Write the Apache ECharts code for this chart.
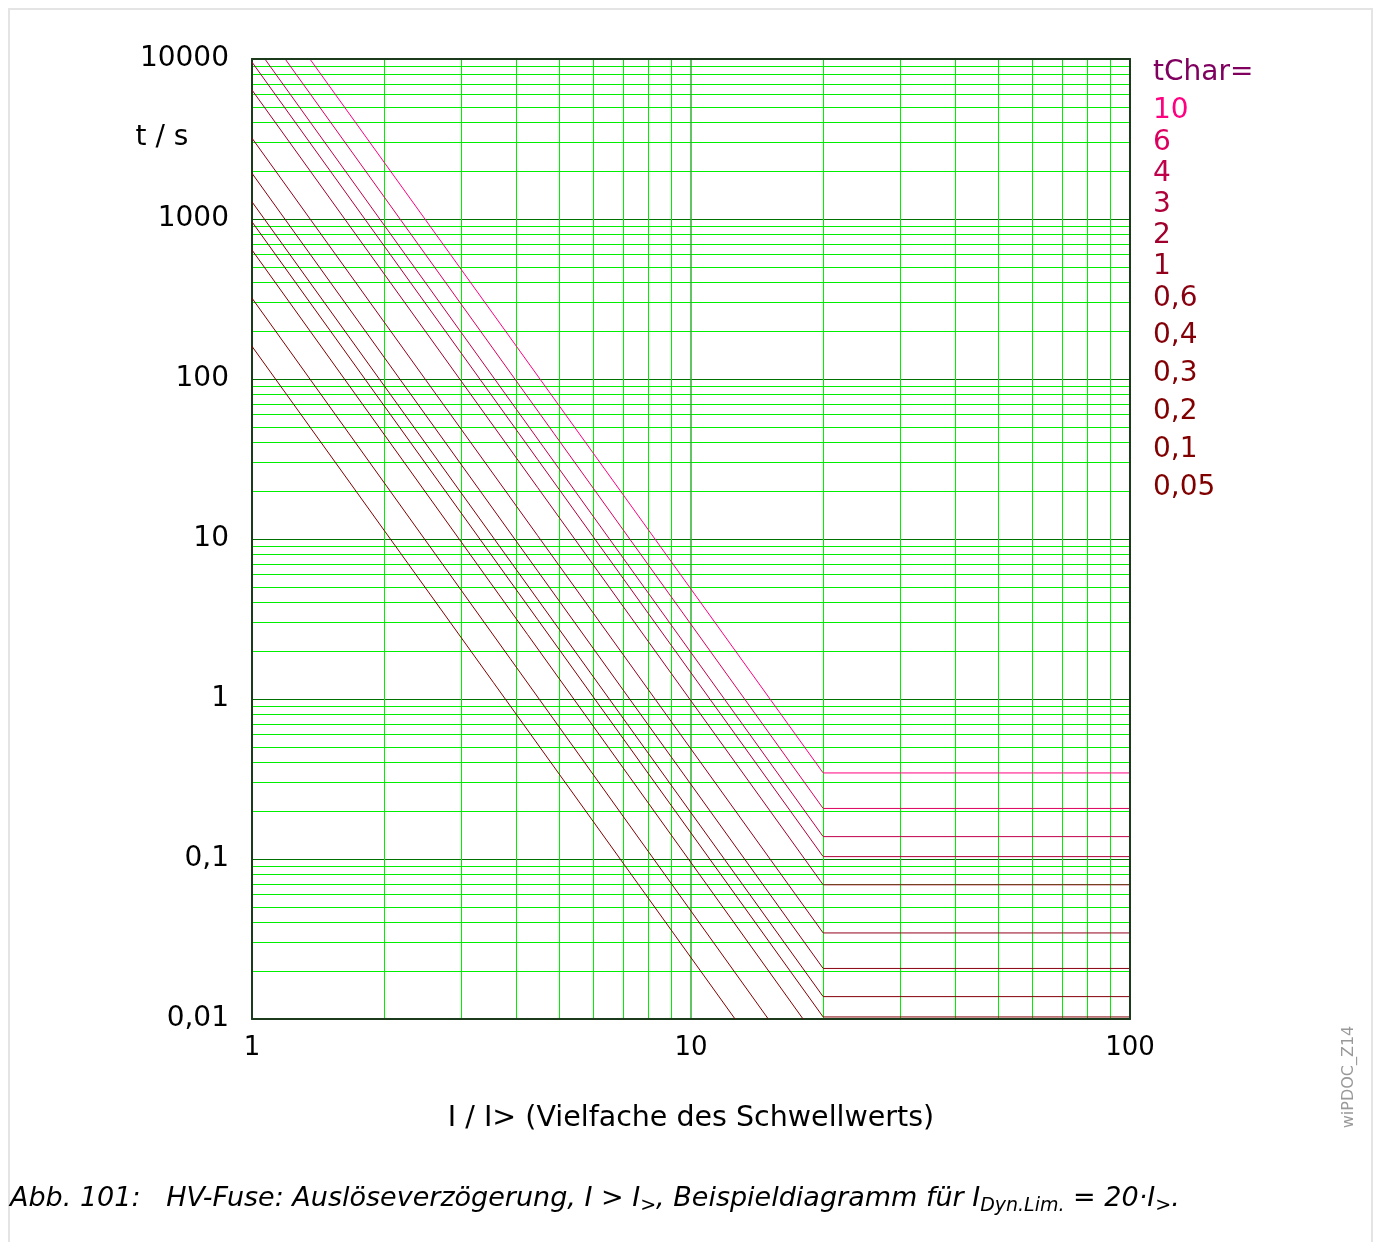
<!DOCTYPE html>
<html><head><meta charset="utf-8">
<script src="https://cdn.jsdelivr.net/npm/echarts@6/dist/echarts.min.js"></script>
<style>html,body{margin:0;padding:0;background:#fff}#c{width:1375px;height:1242px}</style>
</head><body><div id="c"></div>
<script>
// ---- data ----
const tCharLabels = ['10','6','4','3','2','1','0,6','0,4','0,3','0,2','0,1','0,05'];
const seriesColors = ['#ff0080','#dc005e','#c0004a','#b0003a','#a0002c','#92001c','#880010','#840008','#820004','#800000','#800000','#800000'];
// vertices (I/I>, t in s) for each tChar curve
const I_10  = [1.355, 20, 100];  const t_10  = [10000, 0.345, 0.345];
const I_6   = [1.19, 20, 100];   const t_6   = [10000, 0.207, 0.207];
const I_4   = [1.07, 20, 100];   const t_4   = [10000, 0.138, 0.138];
const I_3   = [1, 20, 100];      const t_3   = [9560, 0.1035, 0.1035];
const I_2   = [1, 20, 100];      const t_2   = [6400, 0.069, 0.069];
const I_1   = [1, 20, 100];      const t_1   = [3200, 0.0345, 0.0345];
const I_06  = [1, 20, 100];      const t_06  = [1930, 0.0207, 0.0207];
const I_04  = [1, 20, 100];      const t_04  = [1280, 0.0138, 0.0138];
const I_03  = [1, 20, 100];      const t_03  = [960, 0.0103, 0.0103];
const I_02  = [1, 18.0];         const t_02  = [640, 0.01];
const I_01  = [1, 15.0];         const t_01  = [320, 0.01];
const I_005 = [1, 12.6];         const t_005 = [160, 0.01];
const curveI = [I_10, I_6, I_4, I_3, I_2, I_1, I_06, I_04, I_03, I_02, I_01, I_005];
const curveT = [t_10, t_6, t_4, t_3, t_2, t_1, t_06, t_04, t_03, t_02, t_01, t_005];

const xTickLabels = ['1','10','100'];
const yTickLabels = ['0,01','0,1','1','10','100','1000','10000'];
const legendTitle = 'tChar=';
const legendY = [111,143,174,205,236,267,299,336,374,412,450,488];

// ---- chart ----
const FONT = 'DejaVu Sans';
const chart = echarts.init(document.getElementById('c'), null, {renderer:'canvas'});
const frameColor = '#1c3a1c';
const minorColor = '#00ee00';

const series = [];
curveI.forEach((arr,k)=>{
  series.push({
    type:'line', name:tCharLabels[k], xAxisIndex:0, yAxisIndex:0,
    data: arr.map((x,i)=>[x, curveT[k][i]]),
    showSymbol:false, symbol:'none', clip:true, z:3,
    lineStyle:{color:seriesColors[k], width:1},
    emphasis:{disabled:true}
  });
});

const graphics = [
  {type:'rect', shape:{x:9,y:9,width:1363,height:1300}, style:{fill:'none', stroke:'#e4e4e4', lineWidth:2}, silent:true},
  {type:'text', x:162, y:138, style:{text:'t / s', font:'28px "DejaVu Sans"', fill:'#000', textAlign:'center', textVerticalAlign:'middle'}},
  {type:'text', x:691, y:1119, style:{text:'I / I> (Vielfache des Schwellwerts)', font:'28.5px "DejaVu Sans"', fill:'#000', textAlign:'center', textVerticalAlign:'middle'}},
  {type:'text', x:1153, y:73, style:{text:legendTitle, font:'28px "DejaVu Sans"', fill:'#800060', textAlign:'left', textVerticalAlign:'middle'}},
  {type:'text', x:1349, y:1077, rotation:Math.PI/2, style:{text:'wiPDOC_Z14', font:'16px "DejaVu Sans"', fill:'#999', textAlign:'center', textVerticalAlign:'middle'}},
  {type:'text', x:10, y:1199, style:{
    text:'{n|Abb. 101:   HV-Fuse: Auslöseverzögerung, I > I}{s|>}{n|, Beispieldiagramm für I}{s|Dyn.Lim.}{n| = 20·I}{s|>}{n|.}',
    textVerticalAlign:'middle', textAlign:'left',
    rich:{
      n:{fontFamily:FONT, fontStyle:'italic', fontSize:27, lineHeight:34, fill:'#000'},
      s:{fontFamily:FONT, fontStyle:'italic', fontSize:19, lineHeight:19, fill:'#000', verticalAlign:'bottom'}
    }}}
];
tCharLabels.forEach((lab,k)=>{
  graphics.push({type:'text', x:1153, y:legendY[k], style:{text:lab, font:'28px "DejaVu Sans"', fill:seriesColors[k], textAlign:'left', textVerticalAlign:'middle'}});
});

const option = {
  animation:false,
  backgroundColor:'#fff',
  grid:{left:252, top:59, width:878, height:960, show:false},
  xAxis:[{
    type:'log', logBase:10, min:1, max:100, splitNumber:2, position:'bottom',
    axisLine:{show:true, onZero:false, lineStyle:{color:frameColor, width:2}},
    axisTick:{show:false},
    axisLabel:{show:true, margin:16, color:'#000', fontFamily:FONT, fontSize:26,
      formatter:v=>xTickLabels[Math.round(Math.log10(v))]},
    splitLine:{show:true, showMinLine:false, showMaxLine:false, lineStyle:{color:'#2fb02f', width:1.5}},
    minorTick:{show:false, splitNumber:9},
    minorSplitLine:{show:true, lineStyle:{color:minorColor, width:1}}
  },{
    type:'log', logBase:10, min:1, max:100, position:'top', z:10,
    axisLine:{show:true, onZero:false, lineStyle:{color:frameColor, width:2}},
    axisTick:{show:false}, axisLabel:{show:false}, splitLine:{show:false}
  }],
  yAxis:[{
    type:'log', logBase:10, min:0.01, max:10000, splitNumber:6, position:'left',
    axisLine:{show:true, onZero:false, lineStyle:{color:frameColor, width:2}},
    axisTick:{show:false},
    axisLabel:{show:true, margin:23, color:'#000', fontFamily:FONT, fontSize:28, verticalAlign:'middle',
      formatter:v=>yTickLabels[Math.round(Math.log10(v))+2]},
    splitLine:{show:true, lineStyle:{color:'#007000', width:1}},
    minorTick:{show:false, splitNumber:9},
    minorSplitLine:{show:true, lineStyle:{color:minorColor, width:1}}
  },{
    type:'log', logBase:10, min:0.01, max:10000, position:'right', z:10,
    axisLine:{show:true, onZero:false, lineStyle:{color:frameColor, width:2}},
    axisTick:{show:false}, axisLabel:{show:false}, splitLine:{show:false}
  }],
  series: series,
  graphic: graphics
};
chart.setOption(option);
</script>
</body></html>
